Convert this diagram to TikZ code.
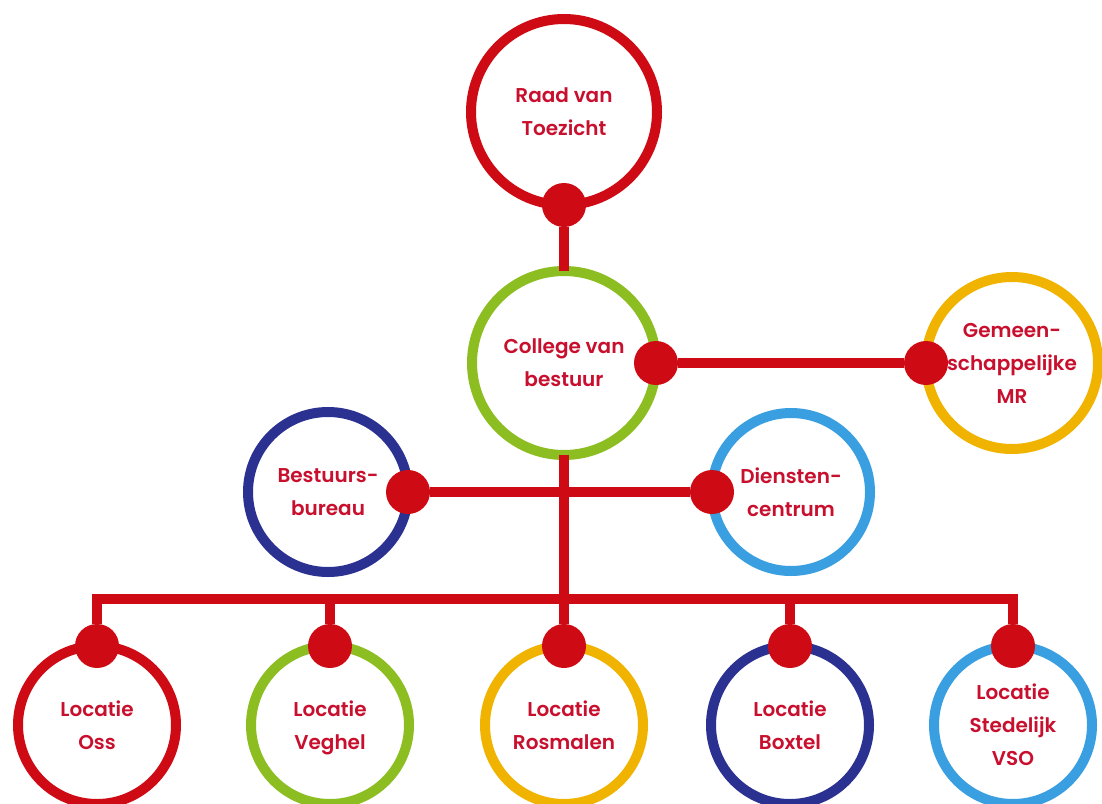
\documentclass[tikz,border=0pt]{standalone}
\usepackage{fontspec}
\setmainfont{Poppins}[BoldFont={Poppins SemiBold}]
\usepackage{tikz}
\usetikzlibrary{positioning}

\definecolor{lred}{HTML}{CE0B14}
\definecolor{tred}{HTML}{C8102E}
\definecolor{lgreen}{HTML}{8CBE22}
\definecolor{lyellow}{HTML}{F0B400}
\definecolor{dblue}{HTML}{2B3190}
\definecolor{lblue}{HTML}{3A9FE0}

\begin{document}
\begin{tikzpicture}[x=1pt, y=-1pt,
	ring/.style={circle, draw=#1, line width=10pt, fill=white, outer sep=0pt, inner sep=0pt,
		align=center, text=tred, font=\fontsize{20}{33}\selectfont\bfseries},
	link/.style={draw=lred, line width=10pt},
	dot/.style={circle, fill=lred, minimum size=44pt, inner sep=0pt}]
	% tikz code goes here
	\useasboundingbox (0,0) rectangle (1102,803);
	\node[ring=lred, minimum size=186pt] (raad) at (564, 112) {Raad van\\Toezicht};
	\node[ring=lgreen, minimum size=184pt] (college) at (564, 363) {College van\\bestuur};
	\node[ring=lyellow, minimum size=172pt] (mr) at (1012, 363) {Gemeen-\\schappelijke\\MR};
	\node[ring=dblue, minimum size=160pt] (bureau) at (328, 492) {Bestuurs-\\bureau};
	\node[ring=lblue, minimum size=158pt] (diensten) at (791, 492) {Diensten-\\centrum};
	\node[ring=lred, minimum size=158pt] (oss) at (97, 725) {Locatie\\Oss};
	\node[ring=lgreen, minimum size=158pt] (veghel) at (330, 725) {Locatie\\Ve\smash{g}hel};
	\node[ring=lyellow, minimum size=158pt] (rosmalen) at (564, 725) {Locatie\\Rosmalen};
	\node[ring=dblue, minimum size=158pt] (boxtel) at (790, 725) {Locatie\\Boxtel};
	\node[ring=lblue, minimum size=158pt] (vso) at (1013, 725) {Locatie\\Stedelijk\\VSO};

	\node[dot] (raad-d) at (raad.south) {};
	\node[dot] (college-d) at (college.east) {};
	\node[dot] (mr-d) at (mr.west) {};
	\node[dot] (bureau-d) at (bureau.east) {};
	\node[dot] (diensten-d) at (diensten.west) {};
	\node[dot] (oss-d) at (oss.north) {};
	\node[dot] (veghel-d) at (veghel.north) {};
	\node[dot] (rosmalen-d) at (rosmalen.north) {};
	\node[dot] (boxtel-d) at (boxtel.north) {};
	\node[dot] (vso-d) at (vso.north) {};

	\coordinate (bar) at (564, 599);
	\draw[link] (raad-d) -- (college)
		(college-d) -- (mr-d)
		(bureau-d) -- (diensten-d)
		(college) -- (rosmalen-d)
		(oss-d) |- (bar) -| (vso-d)
		(bar) -| (veghel-d)
		(bar) -| (boxtel-d);
\end{tikzpicture}
\end{document}
